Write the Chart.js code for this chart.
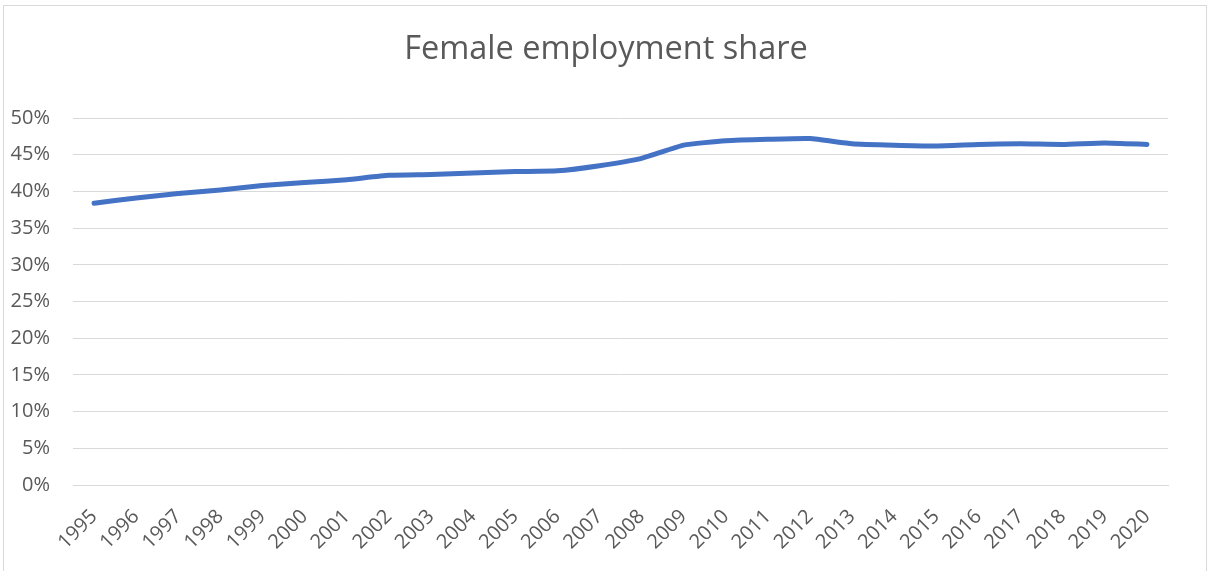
<!DOCTYPE html>
<html>
<head>
<meta charset="utf-8">
<script src="https://cdn.jsdelivr.net/npm/chart.js@4/dist/chart.umd.min.js"></script>
<style>
  html, body { margin: 0; padding: 0; background: #fff; }
  #wrap { position: relative; width: 1208px; height: 571px; overflow: hidden; }
  #frame { position: absolute; left: 3px; top: 5px; width: 1202px; height: 600px; border: 1px solid #d9d9d9; pointer-events: none; }
  canvas { position: absolute; left: 0; top: 0; }
</style>
</head>
<body>
<div id="wrap">
  <canvas id="chart" width="1208" height="571"></canvas>
  <div id="frame"></div>
</div>
<script>
var years = ["1995", "1996", "1997", "1998", "1999", "2000", "2001", "2002", "2003", "2004",
  "2005", "2006", "2007", "2008", "2009", "2010", "2011", "2012", "2013", "2014",
  "2015", "2016", "2017", "2018", "2019", "2020"];
// female share of employment, percent
var femaleShare = [38.4, 39.1, 39.7, 40.2, 40.8, 41.2, 41.6, 42.2, 42.3, 42.5,
  42.7, 42.8, 43.5, 44.5, 46.3, 46.9, 47.1, 47.2, 46.5, 46.3,
  46.2, 46.4, 46.5, 46.4, 46.6, 46.4];
var yTicks = [0, 5, 10, 15, 20, 25, 30, 35, 40, 45, 50];

var textColor = "#595959";
var font = "'Open Sans', 'Noto Sans', sans-serif";

// centre the title on the frame rather than on the padded canvas
var titleShift = {
  id: 'titleShift',
  afterLayout: function (chart) {
    chart.titleBlock.left = 44;
  }
};

var ctx = document.getElementById("chart");
var myChart = new Chart(ctx, {
  type: 'line',
  data: {
    labels: years,
    datasets: [{
      label: "Female employment share",
      data: femaleShare,
      borderColor: "#4472C4",
      borderWidth: 5,
      borderCapStyle: 'round',
      borderJoinStyle: 'round',
      pointRadius: 0,
      tension: 0.15,
      fill: false
    }]
  },
  plugins: [titleShift],
  options: {
    responsive: false,
    animation: false,
    layout: { padding: { left: 8, right: 40, top: 0, bottom: 6 } },
    plugins: {
      legend: { display: false },
      tooltip: { enabled: false },
      title: {
        display: true,
        text: 'Female employment share',
        color: textColor,
        font: { family: font, size: 32.5, weight: 'normal' },
        padding: { top: 30, bottom: 49 }
      }
    },
    scales: {
      x: {
        offset: true,
        afterFit: function (axis) {
          // let rotated labels hang into the y-axis area like excel does
          axis.paddingLeft = 0;
          axis.paddingRight = 0;
          axis.height = 80;
        },
        grid: { display: false, drawTicks: false },
        border: { color: "#d9d9d9" },
        ticks: {
          color: textColor,
          font: { family: font, size: 20 },
          minRotation: 45,
          maxRotation: 45,
          autoSkip: false,
          padding: 20
        }
      },
      y: {
        min: 0,
        max: 50,
        afterBuildTicks: function (axis) {
          axis.ticks = yTicks.map(function (v) { return { value: v }; });
        },
        afterFit: function (axis) { axis.width = 65; },
        grid: { color: "#d9d9d9", drawTicks: false },
        border: { display: false },
        ticks: {
          color: textColor,
          font: { family: font, size: 20 },
          padding: 23,
          callback: function (v) { return v + "%"; }
        }
      }
    }
  }
});
</script>
</body>
</html>
